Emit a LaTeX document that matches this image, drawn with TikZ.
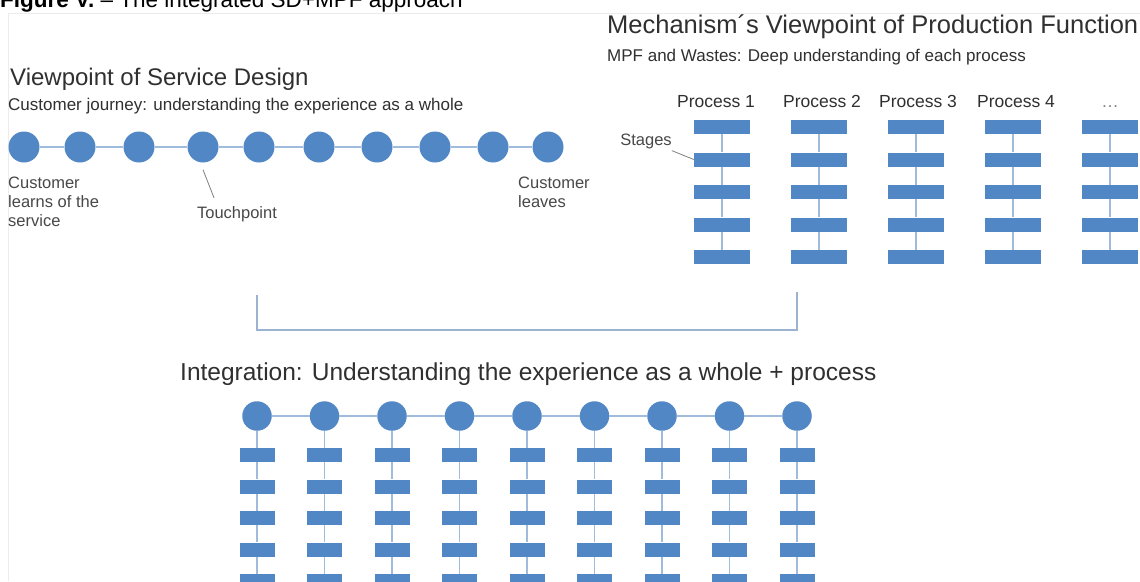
\documentclass[tikz,border=0pt]{standalone}
\usepackage{fontspec}
\setmainfont{Liberation Sans}
\usetikzlibrary{calc, positioning}
\definecolor{dotblue}{RGB}{82,135,197}
\definecolor{linkblue}{RGB}{160,188,220}
\definecolor{txtgray}{RGB}{48,48,48}
\definecolor{notegray}{RGB}{72,72,72}
\definecolor{framegray}{RGB}{236,236,236}

\begin{document}
\begin{tikzpicture}[x=1pt,y=-1pt,
	every node/.style={inner sep=0pt,text=txtgray},
	stop/.style={circle,fill=dotblue,minimum size=31pt},
	istop/.style={circle,fill=dotblue,minimum size=29.5pt},
	stagebar/.style={rectangle,fill=dotblue,minimum width=56pt,minimum height=14pt},
	istagebar/.style={rectangle,fill=dotblue,minimum width=35pt,minimum height=14pt},
	link/.style={draw=linkblue,line width=1.7pt},
	leader/.style={draw=gray,line width=0.8pt},
	bracket/.style={draw=linkblue!85!gray,line width=1.6pt},
	big/.style={font=\fontsize{24}{28}\selectfont,anchor=base west},
	small/.style={font=\fontsize{17}{20}\selectfont,anchor=base west},
	note/.style={font=\fontsize{16.5}{19}\selectfont,text=notegray},
	plabel/.style={font=\fontsize{17.5}{20}\selectfont,anchor=base}]
	\useasboundingbox (0,0) rectangle (1140,581);
	\fill[white] (0,0) rectangle (1140,581);
	\draw[framegray,line width=1pt] (1140,13) -- (8,13) -- (8,581);
	\node[anchor=base west,font=\fontsize{22.5}{26}\selectfont,text=black] (caption) at (0,7) {\textbf{Figure V.} – The integrated SD+MPF approach};
	\node[big,font=\fontsize{25.5}{30}\selectfont] (mpftitle) at (607,33) {Mechanism´s Viewpoint of Production Function};
	\node[small] (mpfsub) at (607,61) {MPF and Wastes: Deep understanding of each process};
	\node[big] (sdtitle) at (10,85.5) {Viewpoint of Service Design};
	\node[small] (sdsub) at (8,110) {Customer journey: understanding the experience as a whole};
	\foreach \x [count=\i] in {24,80,139,203,259,319,377,435,493,548}
		\node[stop] (j\i) at (\x,147) {};
	\foreach \i [remember=\i as \q (initially 1)] in {2,...,10}
		\draw[link] (j\q) -- (j\i);
	\node[note,anchor=north west,align=left] (learn) at (8,177) {Customer\\learns of the\\service};
	\node[note,anchor=north west,align=left] (leave) at (518,177) {Customer\\leaves};
	\node[note,anchor=base] (tp) at (237,218) {Touchpoint};
	\draw[leader] ([yshift=-7pt]j4.south) -- ([xshift=-23pt,yshift=8pt]tp.north);
	\foreach \x/\t [count=\c] in {716/Process 1,822/Process 2,918/Process 3,1016/Process 4,1110/{\textcolor{gray}{\ldots}}}
		\node[plabel] (pl\c) at (\x,107.5) {\t};
	\foreach \x [count=\c] in {722,819,916,1013,1110}{
		\foreach \r in {1,...,5}
			\node[stagebar] (p\c-\r) at (\x,{127+32.5*(\r-1)}) {};
		\foreach \r [remember=\r as \q (initially 1)] in {2,...,5}
			\draw[link] (p\c-\q) -- (p\c-\r);
	}
	\node[note,anchor=base] (stg) at (646,145) {Stages};
	\draw[leader] ([yshift=-2pt]stg.south east) -- (p1-2.west);
	\draw[bracket] (257,295) -- (257,330) -- (797,330) -- (797,292);
	\node[anchor=base west,font=\fontsize{24.5}{29}\selectfont] (integ) at (180,380) {Integration: Understanding the experience as a whole + process};
	\foreach \c in {1,...,9}{
		\node[istop] (i\c) at ({257+67.5*(\c-1)},416) {};
		\foreach \r in {1,...,5}
			\node[istagebar] (i\c-\r) at ({257+67.5*(\c-1)},{455+31.5*(\r-1)}) {};
		\draw[link] (i\c) -- (i\c-1);
		\foreach \r [remember=\r as \q (initially 1)] in {2,...,5}
			\draw[link] (i\c-\q) -- (i\c-\r);
	}
	\foreach \c [remember=\c as \q (initially 1)] in {2,...,9}
		\draw[link] (i\q) -- (i\c);
\end{tikzpicture}
\end{document}
